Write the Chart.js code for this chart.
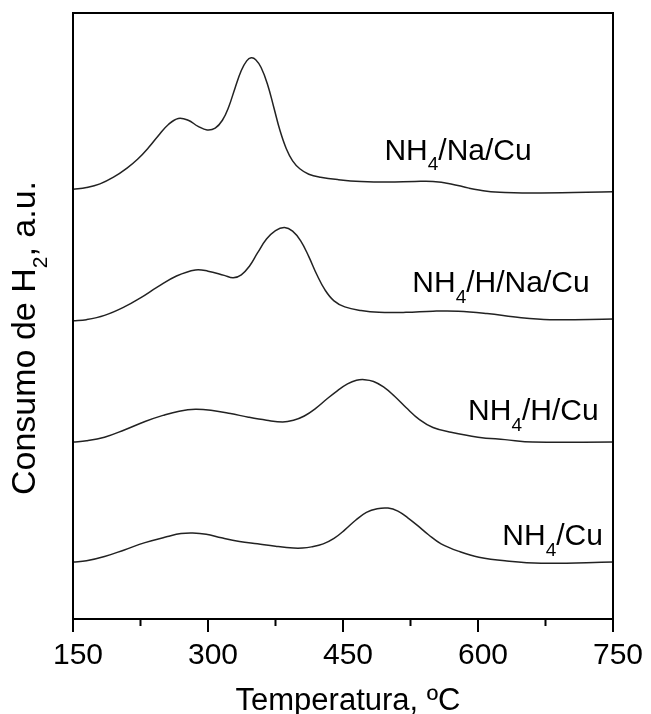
<!DOCTYPE html>
<html>
<head>
<meta charset="utf-8">
<script src="https://cdn.jsdelivr.net/npm/chart.js@4"></script>
<style>
  html, body { margin: 0; padding: 0; background: #fff; }
  #wrap { width: 651px; height: 714px; }
</style>
</head>
<body>
<div id="wrap"><canvas id="tprChart" width="651" height="714"></canvas></div>
<script>
// temperatura (ºC) y consumo de H2 (a.u., curvas desplazadas)
const tempNaCu = [150,165,180,195,210,222,234,245,256,267,278,289,299,308,316,323,330,337,343,348,353,359,366,373,380,387,394,402,412,425,445,470,500,530,550,570,590,610,630,670,750];
const cuNaCu   = [70.9,71.2,71.8,72.9,74.4,75.9,77.8,79.8,81.6,82.6,82.3,81.3,80.7,81.0,82.3,84.5,87.6,90.5,92.1,92.6,92.3,91.0,88.3,84.5,80.6,77.6,75.6,74.3,73.4,72.9,72.5,72.2,72.1,72.2,72.2,71.8,71.1,70.6,70.4,70.3,70.5];

const tempHNaCu = [150,165,185,207,225,244,265,286,300,318,328,337,346,355,365,375,385,394,403,412,421,430,440,452,470,490,520,550,578,610,648,680,750];
const cuHNaCu   = [49.2,49.4,50.1,51.5,53.0,54.8,56.6,57.6,57.4,56.7,56.3,56.8,58.2,60.4,62.7,64.1,64.6,64.0,62.4,59.8,56.8,54.3,52.5,51.5,50.9,50.6,50.6,50.8,50.8,50.4,49.7,49.4,49.5];

const tempHCu = [150,165,185,207,230,250,268,286,305,325,345,365,383,395,407,420,432,444,455,465,474,484,495,507,520,535,550,570,600,630,661,750];
const cuHCu   = [29.2,29.4,30.0,31.2,32.6,33.6,34.3,34.6,34.4,33.9,33.3,32.8,32.5,32.8,33.5,34.8,36.3,37.7,38.8,39.4,39.5,39.2,38.3,36.8,34.9,32.9,31.6,30.8,30.0,29.6,29.2,29.2];

const tempCu = [150,165,185,207,230,255,270,283,298,315,335,355,375,395,405,415,428,440,452,464,476,488,500,511,522,533,545,559,580,601,630,670,750];
const cuCu   = [9.4,9.6,10.3,11.4,12.6,13.6,14.1,14.2,14.0,13.4,12.8,12.4,12.0,11.7,11.7,11.9,12.4,13.3,14.7,16.3,17.6,18.2,18.3,17.8,16.7,15.4,13.9,12.4,11.1,10.2,9.6,9.2,9.4];

const sampleNames = [['NH', '4', '/Na/Cu'], ['NH', '4', '/H/Na/Cu'], ['NH', '4', '/H/Cu'], ['NH', '4', '/Cu']];
const labelAt = [[496, 75.8], [527, 53.9], [589, 32.8], [627, 12.2]];

const majorTicks = [150, 300, 450, 600, 750];
const minorTicks = [225, 375, 525, 675];

const FONT = "'Liberation Sans', Arial, sans-serif";

function toPoints(xs, ys) {
  return xs.map((x, i) => ({ x: x, y: ys[i] }));
}

function drawSub(ctx, parts, x, y, size) {
  // parts: [normal, subscript, normal]
  ctx.font = `${size}px ${FONT}`;
  ctx.fillText(parts[0], x, y);
  x += ctx.measureText(parts[0]).width;
  ctx.font = `${Math.round(size * 0.62)}px ${FONT}`;
  ctx.fillText(parts[1], x, y + size * 0.36);
  x += ctx.measureText(parts[1]).width;
  ctx.font = `${size}px ${FONT}`;
  ctx.fillText(parts[2], x, y);
}

function subWidth(ctx, parts, size) {
  ctx.font = `${size}px ${FONT}`;
  let w = ctx.measureText(parts[0]).width + ctx.measureText(parts[2]).width;
  ctx.font = `${Math.round(size * 0.62)}px ${FONT}`;
  return w + ctx.measureText(parts[1]).width;
}

const decorPlugin = {
  id: 'decor',
  afterDraw(chart) {
    const ctx = chart.ctx;
    const area = chart.chartArea;
    const xs = chart.scales.x;
    const ys = chart.scales.y;

    ctx.save();
    ctx.strokeStyle = '#000';
    ctx.lineWidth = 2;
    ctx.strokeRect(area.left, area.top, area.right - area.left, area.bottom - area.top);

    ctx.beginPath();
    majorTicks.forEach(v => {
      const px = xs.getPixelForValue(v);
      ctx.moveTo(px, area.bottom);
      ctx.lineTo(px, area.bottom + 13);
    });
    minorTicks.forEach(v => {
      const px = xs.getPixelForValue(v);
      ctx.moveTo(px, area.bottom);
      ctx.lineTo(px, area.bottom + 7);
    });
    ctx.stroke();

    ctx.fillStyle = '#000';
    ctx.textBaseline = 'alphabetic';

    // tick labels
    ctx.textAlign = 'center';
    ctx.font = `30px ${FONT}`;
    majorTicks.forEach(v => {
      ctx.fillText(String(v), xs.getPixelForValue(v) + 5, 664);
    });

    // curve labels
    ctx.textAlign = 'left';
    sampleNames.forEach((parts, i) => {
      const px = xs.getPixelForValue(labelAt[i][0]);
      const py = ys.getPixelForValue(labelAt[i][1]);
      drawSub(ctx, parts, px, py, 30);
    });

    // x title
    ctx.font = `31px ${FONT}`;
    ctx.textAlign = 'center';
    ctx.fillText('Temperatura, ºC', (area.left + area.right) / 2 + 5, 710);

    // y title
    ctx.textAlign = 'left';
    const yParts = ['Consumo de H', '2', ', a.u.'];
    const w = subWidth(ctx, yParts, 34);
    ctx.translate(35, 338);
    ctx.rotate(-Math.PI / 2);
    drawSub(ctx, yParts, -w / 2, 0, 34);
    ctx.restore();
  }
};

const lineStyle = {
  borderColor: '#222',
  borderWidth: 1.5,
  pointRadius: 0,
  tension: 0.4,
  fill: false
};

new Chart(document.getElementById('tprChart'), {
  type: 'line',
  data: {
    datasets: [
      { label: 'NH4/Na/Cu', data: toPoints(tempNaCu, cuNaCu), ...lineStyle },
      { label: 'NH4/H/Na/Cu', data: toPoints(tempHNaCu, cuHNaCu), ...lineStyle },
      { label: 'NH4/H/Cu', data: toPoints(tempHCu, cuHCu), ...lineStyle },
      { label: 'NH4/Cu', data: toPoints(tempCu, cuCu), ...lineStyle }
    ]
  },
  options: {
    responsive: false,
    animation: false,
    layout: { padding: { left: 73, right: 38, top: 13, bottom: 0 } },
    plugins: { legend: { display: false }, tooltip: { enabled: false } },
    scales: {
      x: {
        type: 'linear',
        min: 150,
        max: 750,
        grid: { display: false, drawTicks: false },
        border: { display: false },
        afterBuildTicks: s => { s.ticks = majorTicks.map(v => ({ value: v })); },
        afterFit: s => { s.height = 95; },
        ticks: { display: false }
      },
      y: {
        display: false,
        min: 0,
        max: 100
      }
    }
  },
  plugins: [decorPlugin]
});
</script>
</body>
</html>
